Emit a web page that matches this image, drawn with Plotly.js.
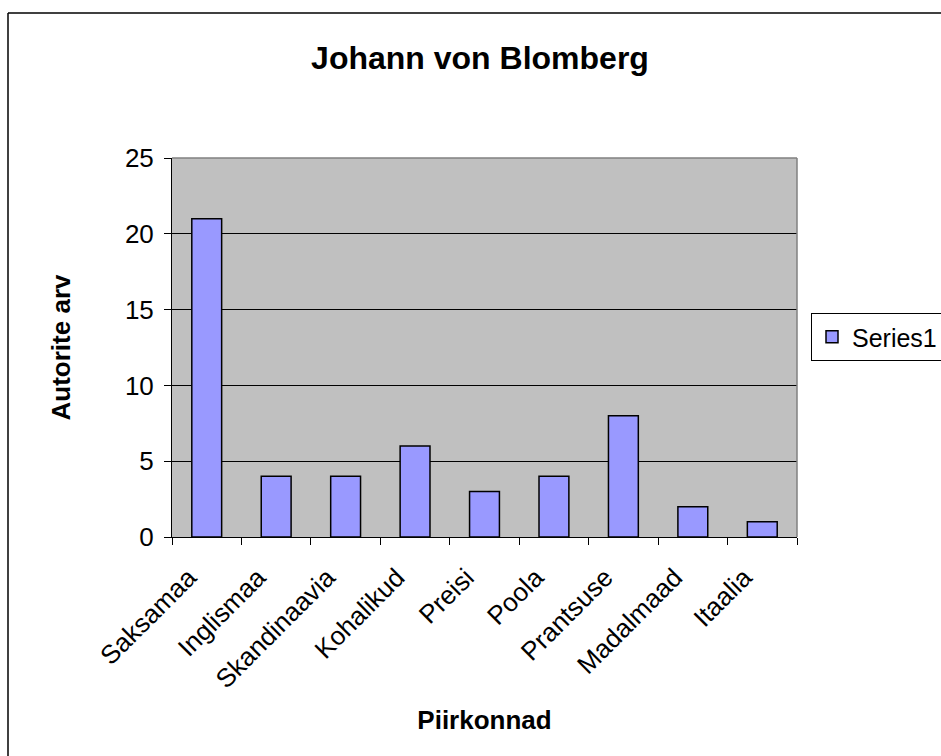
<!DOCTYPE html>
<html>
<head>
<meta charset="utf-8">
<script src="https://cdn.plot.ly/plotly-3.0.1.min.js"></script>
<style>html,body{margin:0;padding:0;background:#fff;}#chart{width:941px;height:756px;}</style>
</head>
<body>
<div id="chart"></div>
<script>
const categories = ["Saksamaa","Inglismaa","Skandinaavia","Kohalikud","Preisi","Poola","Prantsuse","Madalmaad","Itaalia"];
const series1 = [21,4,4,6,3,4,8,2,1];
const yTicks = [0,5,10,15,20,25];
const seriesName = "Series1";
const chartTitle = "Johann von Blomberg";
const xTitle = "Piirkonnad";
const yTitle = "Autorite arv";

const FONT = "Liberation Sans, Arial, sans-serif";
const L = 172, R = 797, T = 158, B = 537, W = 941, H = 756;
const px2x = p => (p - L) / (R - L);
const px2y = p => (B - p) / (B - T);

const data = [{
  type: "bar",
  x: categories,
  y: series1,
  name: seriesName,
  showlegend: true,
  marker: {color: "#9999FF", line: {color: "#000000", width: 1.5}}
}];

const layout = {
  width: W, height: H,
  margin: {l: L, r: W - R, t: T, b: H - B, autoexpand: false},
  paper_bgcolor: "#ffffff",
  plot_bgcolor: "#C0C0C0",
  font: {family: FONT, color: "#000"},
  bargap: 0.57,
  title: {text: chartTitle, font: {family: FONT, size: 32, color: "#000", weight: "bold"},
          xref: "container", x: 480 / W, xanchor: "center", yref: "container", y: 1 - 58 / H, yanchor: "middle"},
  xaxis: {
    type: "category",
    showline: true, linecolor: "#000", linewidth: 1,
    ticks: "outside", tickson: "boundaries", ticklen: 7, tickcolor: "#000", tickwidth: 1,
    tickangle: -45, tickfont: {family: FONT, size: 26},
    ticklabelshift: -18, ticklabelstandoff: 14,
    showgrid: false, zeroline: false,
    title: {text: xTitle, font: {family: FONT, size: 26, weight: "bold"}, standoff: 17}
  },
  yaxis: {
    range: [0, 25], tickvals: yTicks, ticktext: yTicks.map(String),
    showline: true, linecolor: "#000", linewidth: 1,
    ticks: "outside", ticklen: 7, tickcolor: "#000", tickwidth: 1,
    tickfont: {family: FONT, size: 26}, ticklabelstandoff: 5,
    showgrid: true, gridcolor: "#000", gridwidth: 1, zeroline: false,
    title: {text: yTitle, font: {family: FONT, size: 26, weight: "bold"}, standoff: 46}
  },
  legend: {
    x: px2x(811), xanchor: "left", y: px2y(313), yanchor: "top",
    bgcolor: "#ffffff", bordercolor: "#000", borderwidth: 1,
    font: {family: FONT, size: 25}
  },
  shapes: [
    {type: "line", xref: "paper", yref: "paper", x0: 0, x1: 1, y0: 1, y1: 1, line: {color: "#808080", width: 1.5}, layer: "above"},
    {type: "line", xref: "paper", yref: "paper", x0: 1, x1: 1, y0: 0, y1: 1, line: {color: "#808080", width: 1.5}, layer: "above"},
    {type: "line", xref: "paper", yref: "paper", x0: px2x(8), x1: px2x(8), y0: px2y(H + 20), y1: px2y(13), line: {color: "#000", width: 1.5}, layer: "below"},
    {type: "line", xref: "paper", yref: "paper", x0: px2x(8), x1: px2x(W + 20), y0: px2y(13), y1: px2y(13), line: {color: "#000", width: 1.5}, layer: "below"}
  ]
};

Plotly.newPlot("chart", data, layout, {displayModeBar: false, staticPlot: true});
</script>
</body>
</html>
